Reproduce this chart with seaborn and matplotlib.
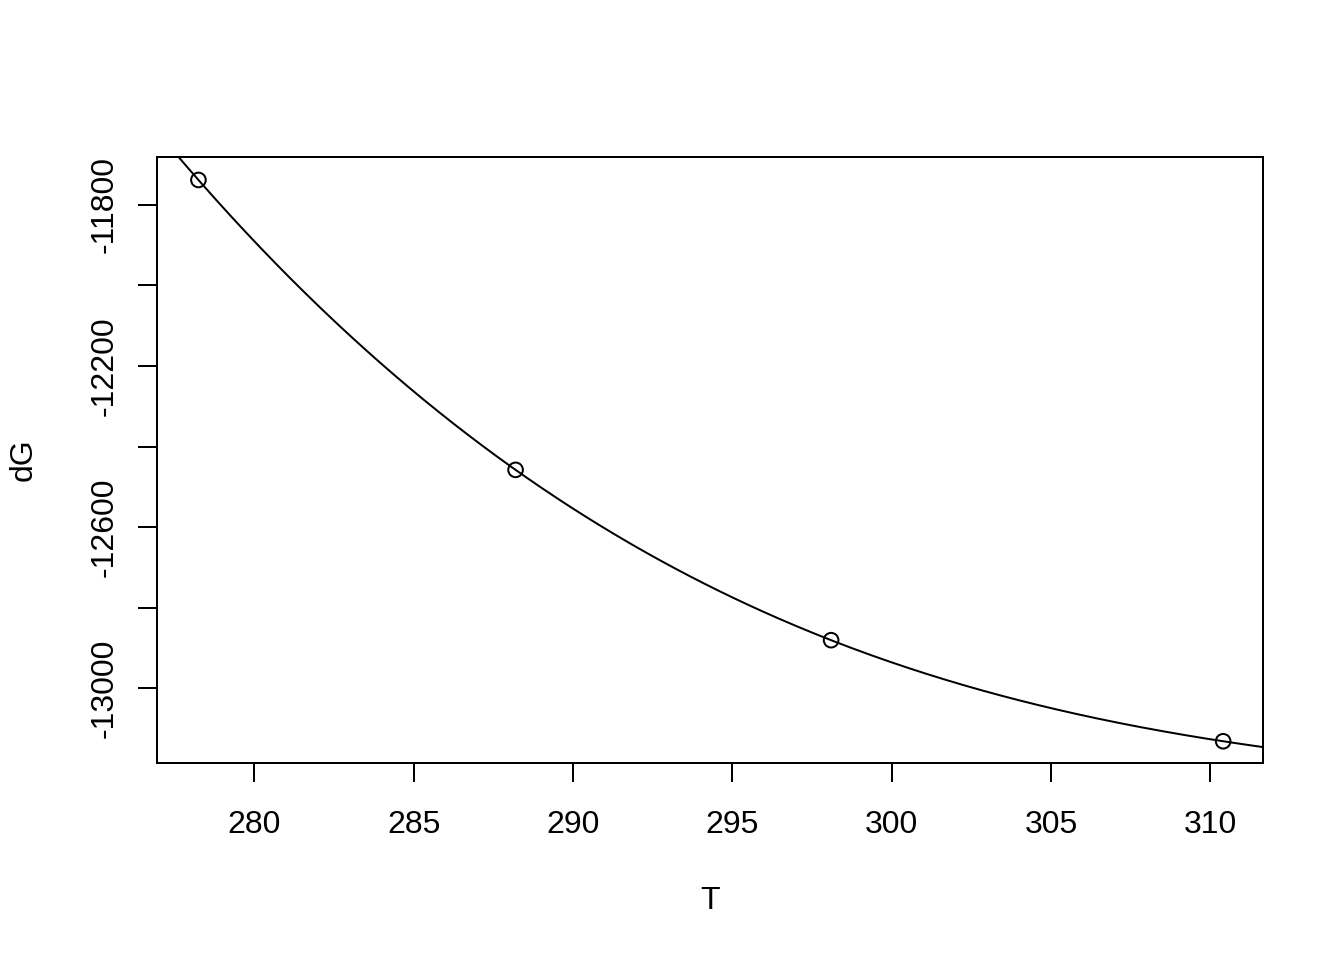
import numpy as np
import pandas as pd
import matplotlib
matplotlib.use("Agg")
import matplotlib.pyplot as plt
import seaborn as sns

temps = [278.25, 288.2, 298.1, 310.4]
dG = [-11738, -12458, -12881, -13132]

x_range = [276.95, 311.65]
y_range = [-13186, -11681]
y_ticks = [-11800, -12000, -12200, -12400, -12600, -12800, -13000]
y_ticklabels = ["-11800", "", "-12200", "", "-12600", "", "-13000"]
x_ticks = [280, 285, 290, 295, 300, 305, 310]

sns.set_style("ticks")
plt.rcParams['font.family'] = ['Liberation Sans', 'DejaVu Sans']
plt.rcParams['text.color'] = 'black'
plt.rcParams['axes.labelcolor'] = 'black'
plt.rcParams['xtick.color'] = 'black'
plt.rcParams['ytick.color'] = 'black'

df = pd.DataFrame({"T": temps, "dG": dG})

# smooth fitted curve through the measurements
coef = np.polyfit(df["T"], df["dG"], 3)
tt = np.linspace(x_range[0], x_range[1], 300)
fit = pd.DataFrame({"T": tt, "dG": np.polyval(coef, tt)})

fig = plt.figure(figsize=(7, 5), dpi=192)
ax = fig.add_axes([157 / 1344, 1 - 763 / 960, (1263 - 157) / 1344, (763 - 157) / 960])

sns.lineplot(data=fit, x="T", y="dG", ax=ax, color="black", linewidth=0.75)
sns.scatterplot(data=df, x="T", y="dG", ax=ax, marker="o", s=30,
                facecolor="none", edgecolor="black", linewidth=0.75)

ax.set_xlim(x_range)
ax.set_ylim(y_range)
ax.set_xticks(x_ticks)
ax.set_yticks(y_ticks)
ax.set_yticklabels(y_ticklabels, rotation=90, va="center")
ax.tick_params(axis="both", length=7.2, width=0.75, labelsize=12,
               color="black", labelcolor="black")
ax.tick_params(axis="x", pad=10.5)
ax.tick_params(axis="y", pad=7)
for s in ax.spines.values():
    s.set_visible(True)
    s.set_linewidth(0.75)
    s.set_color("black")

ax.set_xlabel("T", fontsize=12, labelpad=17)
ax.set_ylabel("dG", fontsize=12, labelpad=19)

fig.savefig("out.png", dpi=192)
